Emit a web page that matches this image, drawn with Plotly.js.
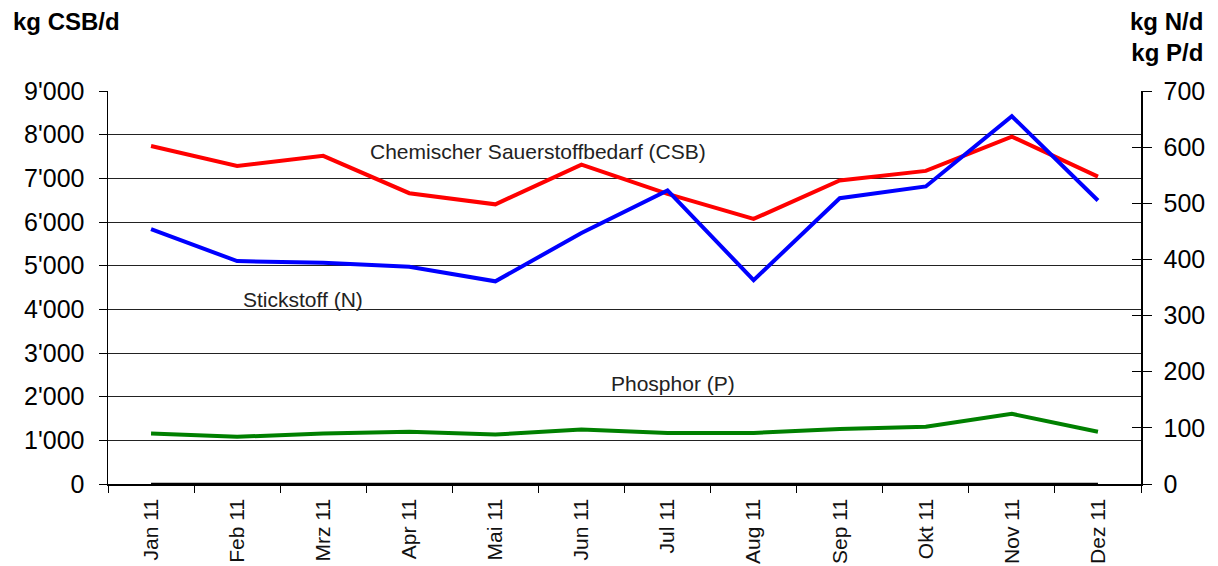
<!DOCTYPE html>
<html>
<head>
<meta charset="utf-8">
<script src="https://cdn.plot.ly/plotly-3.0.1.min.js"></script>
<style>html,body{margin:0;padding:0;background:#fff}#chart{width:1218px;height:566px}</style>
</head>
<body>
<div id="chart"></div>
<script>
const months = ["Jan 11","Feb 11","Mrz 11","Apr 11","Mai 11","Jun 11","Jul 11","Aug 11","Sep 11","Okt 11","Nov 11","Dez 11"];
const csb = [7740, 7285, 7515, 6660, 6405, 7315, 6645, 6070, 6950, 7170, 7955, 7040];
const stickstoff = [454, 397, 394, 387, 361, 447, 523, 363, 509, 530, 655, 505];
const phosphor = [90, 84, 90, 93, 88, 97, 91, 91, 98, 102, 125, 93];
const baseline = [0,0,0,0,0,0,0,0,0,0,0,0];
const leftTickVals = [0,1000,2000,3000,4000,5000,6000,7000,8000,9000];
const leftTickText = ["0","1'000","2'000","3'000","4'000","5'000","6'000","7'000","8'000","9'000"];
const rightTickVals = [0,100,200,300,400,500,600,700];
const rightTickText = ["0","100","200","300","400","500","600","700"];

const FONT = "Liberation Sans, Arial, sans-serif";

const traces = [
  {x: months, y: baseline, type: "scatter", mode: "lines", line: {color: "#000000", width: 2.5}, yaxis: "y", hoverinfo: "skip"},
  {x: months, y: csb, type: "scatter", mode: "lines", name: "Chemischer Sauerstoffbedarf (CSB)", line: {color: "#ff0000", width: 4}, yaxis: "y"},
  {x: months, y: stickstoff, type: "scatter", mode: "lines", name: "Stickstoff (N)", line: {color: "#0000ff", width: 4}, yaxis: "y2"},
  {x: months, y: phosphor, type: "scatter", mode: "lines", name: "Phosphor (P)", line: {color: "#008000", width: 4}, yaxis: "y2"},
  {x: months, y: baseline, type: "scatter", mode: "lines", line: {width: 0, color: "rgba(0,0,0,0)"}, yaxis: "y3", hoverinfo: "skip"}
];

const layout = {
  width: 1218, height: 566,
  margin: {l: 108, r: 77, t: 91, b: 82, pad: 0},
  paper_bgcolor: "#ffffff", plot_bgcolor: "#ffffff",
  showlegend: false,
  font: {family: FONT, color: "#000000"},
  xaxis: {
    type: "category", range: [-0.5, 11.5],
    tickson: "boundaries", ticks: "outside", ticklen: 7, tickcolor: "#000", tickwidth: 1,
    showline: true, linecolor: "#000", linewidth: 1.5,
    showgrid: false, zeroline: false, tickangle: -90, ticklabelstandoff: 5,
    tickfont: {family: FONT, size: 21, color: "#111"}
  },
  yaxis: {
    range: [0, 9000], tickmode: "array", tickvals: leftTickVals, ticktext: leftTickText,
    ticks: "outside", ticklen: 8, tickcolor: "#000", tickwidth: 1, ticklabelstandoff: 9,
    showline: true, linecolor: "#000", linewidth: 1.5,
    showgrid: true, gridcolor: "#222222", gridwidth: 1, zeroline: false,
    tickfont: {family: FONT, size: 25, color: "#000"}
  },
  yaxis2: {
    range: [0, 700], overlaying: "y", side: "right", tickmode: "array", tickvals: rightTickVals, ticktext: rightTickText,
    ticks: "outside", ticklen: 9, tickcolor: "#000", tickwidth: 1, ticklabelstandoff: 7,
    showline: true, linecolor: "#000", linewidth: 1.5,
    showgrid: false, zeroline: false,
    tickfont: {family: FONT, size: 25, color: "#000"}
  },
  yaxis3: {
    range: [0, 700], overlaying: "y", side: "right", tickmode: "array", tickvals: rightTickVals,
    ticks: "inside", ticklen: 9, tickcolor: "#000", tickwidth: 1,
    showticklabels: false, showline: false, showgrid: false, zeroline: false
  },
  annotations: [
    {xref: "paper", yref: "paper", x: 0, xshift: -97, xanchor: "left", y: 1, yshift: 70, yanchor: "middle",
     text: "<b>kg CSB/d</b>", showarrow: false, font: {family: FONT, size: 24, color: "#000"}},
    {xref: "paper", yref: "paper", x: 1, xshift: 64, xanchor: "right", y: 1, yshift: 54, yanchor: "middle", align: "right",
     text: "<b>kg N/d<br>kg P/d</b>", showarrow: false, font: {family: FONT, size: 24, color: "#000"}},
    {xref: "x", yref: "y", x: 4.5, y: 7620, text: "Chemischer Sauerstoffbedarf (CSB)", showarrow: false,
     font: {family: FONT, size: 21, color: "#222"}},
    {xref: "x", yref: "y", x: 1.77, y: 4230, text: "Stickstoff (N)", showarrow: false,
     font: {family: FONT, size: 21, color: "#222"}},
    {xref: "x", yref: "y", x: 6.06, y: 2294, text: "Phosphor (P)", showarrow: false,
     font: {family: FONT, size: 21, color: "#222"}}
  ]
};

Plotly.newPlot("chart", traces, layout, {displayModeBar: false, staticPlot: true});
</script>
</body>
</html>
